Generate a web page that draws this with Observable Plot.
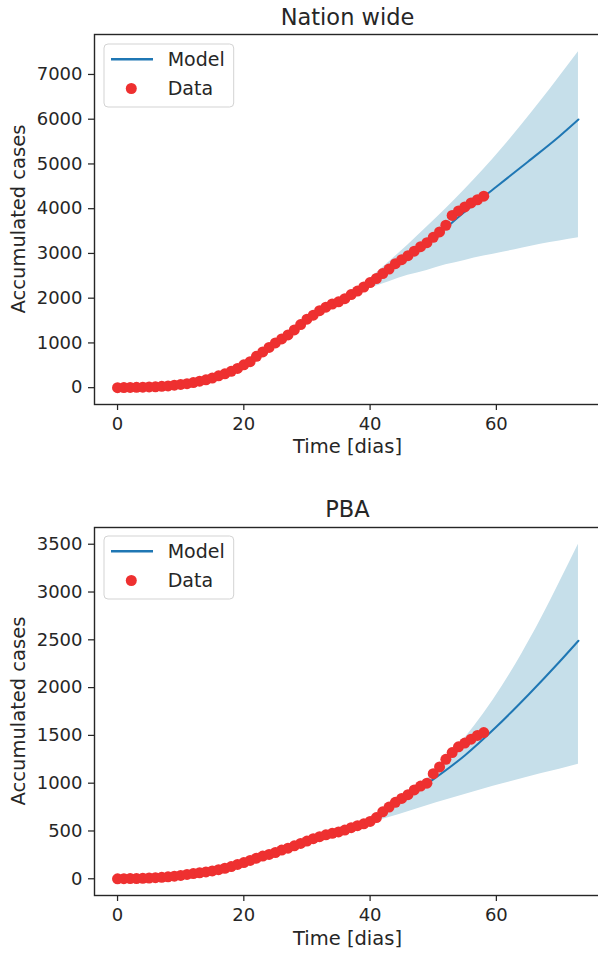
<!DOCTYPE html>
<html><head><meta charset="utf-8">
<script src="https://cdn.jsdelivr.net/npm/d3@7"></script>
<script src="https://cdn.jsdelivr.net/npm/@observablehq/plot@0.6"></script>
<style>
html,body{margin:0;padding:0;background:#fff;overflow:hidden;}
#root{position:relative;width:598px;height:954px;overflow:hidden;font-family:"DejaVu Sans",sans-serif;color:#262626;}
.panel{position:absolute;left:0;width:603px;}
.panel svg{max-width:none !important;}
.title{position:absolute;left:94px;width:507px;text-align:center;font-size:22.5px;line-height:28px;height:28px;white-space:nowrap;}
.xlabel{position:absolute;left:94px;width:507px;text-align:center;font-size:19.5px;line-height:24px;height:24px;white-space:nowrap;}
.ylabel{position:absolute;width:370px;text-align:center;font-size:19.5px;line-height:24px;height:24px;white-space:nowrap;transform:rotate(-90deg);transform-origin:50% 50%;}
.legend{position:absolute;left:103px;}
</style>
</head><body>
<div id="root"></div>
<script>
// ---- data ----
const days = [0,1,2,3,4,5,6,7,8,9,10,11,12,13,14,15,16,17,18,19,20,21,22,23,24,25,26,27,28,29,30,31,32,33,34,35,36,37,38,39,40,41,42,43,44,45,46,47,48,49,50,51,52,53,54,55,56,57,58];
const nationData = [0,2,5,8,12,17,20,30,40,55, 72,90,115,145,175,215,265,310,365,430, 510,580,700,800,900,1000,1090,1180,1290,1410, 1530,1620,1720,1800,1870,1920,1990,2080,2160,2250, 2350,2440,2550,2650,2770,2860,2950,3050,3150,3240, 3360,3480,3630,3850,3950,4040,4130,4200,4280];
const pbaData = [0,1,2,3,5,8,11,15,20,27, 35,45,55,63,72,82,95,110,128,150, 170,192,215,237,255,275,300,320,345,370, 395,420,440,460,475,490,510,535,555,575, 600,640,700,750,800,840,880,930,970,1000, 1100,1170,1250,1320,1380,1420,1460,1500,1530];
const modelDays = [0,5,10,15,20,25,30,35,40,45,50,55,60,65,70,73];
const nationModel = [0,17,72,215,510,1000,1530,1920,2340,2840,3340,3930,4490,5050,5620,5993];
const pbaModel = [0,8,35,82,170,275,395,490,600,820,1040,1290,1590,1920,2270,2490];
const bandDays = [37,40,43,46,49,52,55,58,61,64,67,70,73];
const nationHi = [2080,2440,2810,3190,3590,4000,4430,4880,5360,5870,6400,6950,7510];
const nationLo = [2080,2220,2370,2510,2620,2745,2845,2940,3025,3115,3205,3280,3351];
const pbaHi = [535,625,738,878,1045,1242,1470,1730,2023,2349,2709,3099,3500];
const pbaLo = [535,585,640,700,765,825,882,940,993,1047,1098,1147,1197];
const xTicks = [0,20,40,60];
const nationYTicks = [0,1000,2000,3000,4000,5000,6000,7000];
const pbaYTicks = [0,500,1000,1500,2000,2500,3000,3500];
const titles = ["Nation wide","PBA"];
const xLabel = "Time [dias]";
const yLabel = "Accumulated cases";
const legendLabels = ["Model","Data"];

const C_MODEL = "#1f77b4", C_BAND = "#c6dfea", C_DATA = "#ee3030", C_INK = "#262626";

function panel(data, model, hi, lo, yDomain, yTicks, height, marginBottom) {
  const pts = days.map((d,i)=>({x:d, y:data[i]}));
  const mod = modelDays.map((d,i)=>({x:d, y:model[i]}));
  const band = bandDays.map((d,i)=>({x:d, lo:lo[i], hi:hi[i]}));
  const svg = Plot.plot({
    width: 603, height, marginLeft: 94, marginRight: 2, marginTop: 34, marginBottom,
    x: {domain: [-3.65, 76.65]},
    y: {domain: yDomain},
    style: {fontFamily: "DejaVu Sans", fontSize: "18px", color: C_INK, background: "transparent", maxWidth: "none"},
    marks: [
      Plot.areaY(band, {x:"x", y1:"lo", y2:"hi", fill:C_BAND, curve:"monotone-x"}),
      Plot.line(mod, {x:"x", y:"y", stroke:C_MODEL, strokeWidth:2, curve:"monotone-x"}),
      Plot.dot(pts, {x:"x", y:"y", r:5.5, fill:C_DATA}),
      Plot.axisX({ticks:xTicks, tickSize:6, tickPadding:7, label:null, fontSize:18, strokeWidth:1.25, tickFormat:d=>String(d)}),
      Plot.axisY({ticks:yTicks, tickSize:6, tickPadding:6, label:null, fontSize:18, strokeWidth:1.25, tickFormat:d=>String(d)}),
      Plot.frame({stroke:C_INK, strokeWidth:1.4})
    ]
  });
  svg.style.maxWidth = "none";
  svg.setAttribute("width", 603);
  return svg;
}

function legendSvg(top) {
  const ns = "http://www.w3.org/2000/svg";
  const svg = document.createElementNS(ns, "svg");
  svg.setAttribute("width", 134); svg.setAttribute("height", 68);
  svg.setAttribute("class", "legend");
  svg.style.top = top + "px";
  svg.innerHTML = `
    <rect x="1" y="1" width="129.7" height="63" rx="4" fill="#fff" fill-opacity="0.8" stroke="#d3d3d3" stroke-width="1"/>
    <line x1="8" x2="50" y1="16.3" y2="16.3" stroke="${C_MODEL}" stroke-width="2.5"/>
    <circle cx="28.3" cy="45.5" r="5.5" fill="${C_DATA}"/>
    <text x="64.7" y="16.3" dy="0.36em" font-family="DejaVu Sans" font-size="19" fill="${C_INK}">${legendLabels[0]}</text>
    <text x="64.7" y="45.5" dy="0.36em" font-family="DejaVu Sans" font-size="19" fill="${C_INK}">${legendLabels[1]}</text>`;
  return svg;
}

const root = document.getElementById("root");
function addDiv(cls, text, style) {
  const d = document.createElement("div");
  d.className = cls; d.textContent = text;
  Object.assign(d.style, style);
  root.appendChild(d);
  return d;
}

// Panel 1
const p1 = panel(nationData, nationModel, nationHi, nationLo, [-376, 7893], nationYTicks, 470, 66);
const w1 = document.createElement("div"); w1.className = "panel"; w1.style.top = "0px"; w1.appendChild(p1); root.appendChild(w1);
// Panel 2
const p2 = panel(pbaData, pbaModel, pbaHi, pbaLo, [-175, 3675], pbaYTicks, 461, 59);
const w2 = document.createElement("div"); w2.className = "panel"; w2.style.top = "493px"; w2.appendChild(p2); root.appendChild(w2);

addDiv("title", titles[0], {top: "3px"});
addDiv("title", titles[1], {top: "495px"});
addDiv("xlabel", xLabel, {top: "435px"});
addDiv("xlabel", xLabel, {top: "927px"});
addDiv("ylabel", yLabel, {left: (19 - 185) + "px", top: (219 - 12) + "px"});
addDiv("ylabel", yLabel, {left: (19 - 185) + "px", top: (711 - 12) + "px"});
root.appendChild(legendSvg(43));
root.appendChild(legendSvg(535));
</script>
</body></html>
